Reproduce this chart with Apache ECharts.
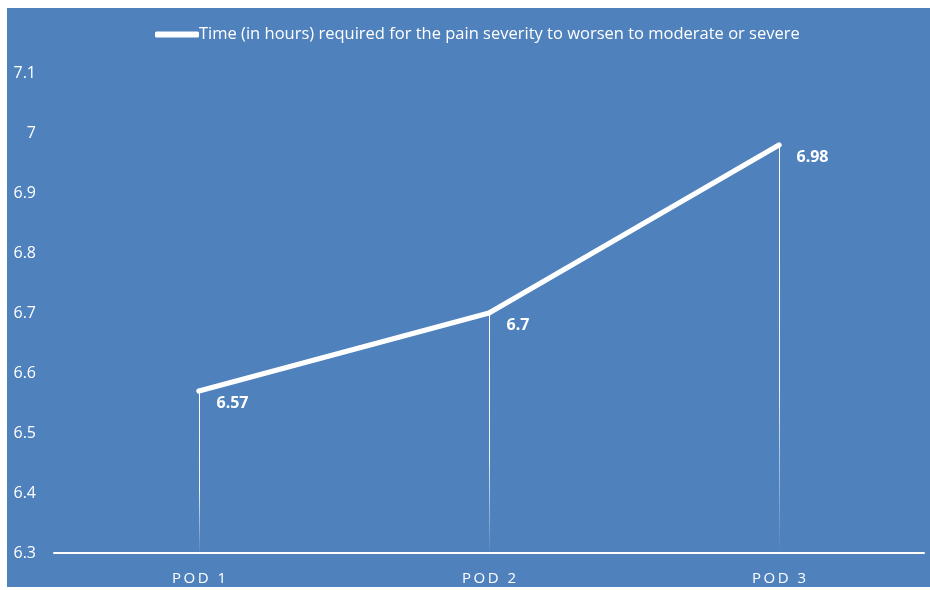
<!DOCTYPE html>
<html>
<head>
<meta charset="utf-8">
<script src="https://cdn.jsdelivr.net/npm/echarts@6/dist/echarts.min.js"></script>
<style>
  html, body { margin: 0; padding: 0; background: #ffffff; }
  #frame { position: absolute; left: 7px; top: 8px; width: 923px; height: 579px; background: #4f81bd; }
  #chart { position: absolute; left: 0; top: 0; width: 930px; height: 590px; }
</style>
</head>
<body>
<div id="frame"></div>
<div id="chart"></div>
<script>
// Postoperative days and measured time until pain worsens
const categories = ['POD 1', 'POD 2', 'POD 3'];
const hours = [6.57, 6.7, 6.98];
const seriesName = 'Time (in hours) required for the pain severity to worsen to moderate or severe';
const yMin = 6.3;
const yMax = 7.1;
const yStep = 0.1;

const FONT = '"Open Sans"';
const chart = echarts.init(document.getElementById('chart'), null, { renderer: 'canvas' });

// Vertical drop lines from each point down to the axis
const dropLines = categories.map((c, i) => [
  { coord: [i, hours[i]] },
  { coord: [i, yMin] }
]);

chart.setOption({
  backgroundColor: 'transparent',
  animation: false,
  legend: {
    top: 21,
    left: 150,
    itemWidth: 44,
    itemHeight: 6,
    itemGap: 4,
    icon: 'roundRect',
    textStyle: { color: '#ffffff', fontFamily: FONT, fontSize: 16.5, padding: [0, 0, 0, -5] },
    data: [{ name: seriesName, itemStyle: { color: '#ffffff' } }]
  },
  grid: { left: 54, right: 6, top: 73, bottom: 37, containLabel: false },
  xAxis: {
    type: 'category',
    data: categories,
    boundaryGap: true,
    axisLine: { lineStyle: { color: '#ffffff', width: 2 } },
    axisTick: { show: false },
    axisLabel: {
      color: '#ffffff',
      fontFamily: FONT,
      fontSize: 15,
      margin: 18,
      formatter: v => v.split('').join('\u2009')
    }
  },
  yAxis: {
    type: 'value',
    min: yMin,
    max: yMax,
    interval: yStep,
    axisLine: { show: false },
    axisTick: { show: false },
    splitLine: { show: false },
    axisLabel: {
      color: '#ffffff',
      fontFamily: FONT,
      fontSize: 16,
      margin: 18,
      formatter: v => String(Math.round(v * 10) / 10)
    }
  },
  series: [{
    name: seriesName,
    type: 'line',
    data: hours,
    symbol: 'circle',
    symbolSize: 5,
    showSymbol: true,
    lineStyle: { color: '#ffffff', width: 5, cap: 'round', join: 'round' },
    itemStyle: { color: '#ffffff', borderWidth: 0 },
    label: {
      show: true,
      position: 'right',
      distance: 5,
      offset: [10, 12],
      color: '#ffffff',
      fontFamily: FONT,
      fontWeight: 'bold',
      fontSize: 16
    },
    markLine: {
      silent: true,
      symbol: 'none',
      label: { show: false },
      lineStyle: {
        type: 'solid',
        width: 1,
        color: new echarts.graphic.LinearGradient(0, 0, 0, 1, [
          { offset: 0, color: 'rgba(255,255,255,1)' },
          { offset: 0.6, color: 'rgba(255,255,255,0.9)' },
          { offset: 1, color: 'rgba(255,255,255,0)' }
        ])
      },
      data: dropLines
    }
  }]
});
</script>
</body>
</html>
